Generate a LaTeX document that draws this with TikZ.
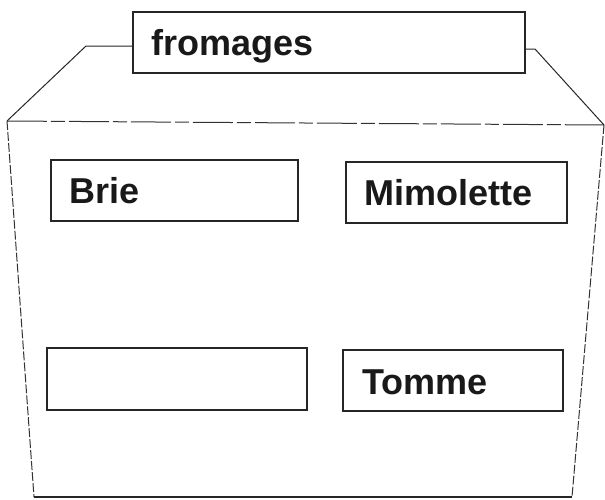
\documentclass[tikz,border=0pt]{standalone}
\usepackage{fontspec}
\setmainfont{Liberation Sans}
\begin{document}
\begin{tikzpicture}[x=1pt,y=-1pt,
  lbl/.style={inner sep=0pt, anchor=base west, font=\fontsize{36}{40}\selectfont\bfseries, text=black!90},
  boxline/.style={draw=black!85, line width=1.1pt},
  wall/.style={draw=black!80, line width=1pt, dash pattern=on 9pt off 2pt},
  topedge/.style={draw=black!80, line width=1pt, dash pattern=on 40pt off 4pt on 14pt off 4pt}
]
\useasboundingbox[fill=white] (0,0) rectangle (605,499);
% corner coordinates of the crate
\coordinate (tl) at (7,121);
\coordinate (tr) at (604,125);
\coordinate (bl) at (34,497);
\coordinate (br) at (572,497);
\coordinate (lidl) at (86,46);
\coordinate (lidlb) at (133,46);
\coordinate (lidr) at (535,49);
\coordinate (lidrb) at (525,49);
% lid sides
\draw[boxline, line width=1pt] (tl) -- (lidl) -- (lidlb);
\draw[boxline, line width=1pt] (lidrb) -- (lidr) -- (tr);
% crate body
\draw[topedge] (tl) -- (tr);
\draw[wall] (tl) -- (bl);
\draw[wall] (tr) -- (br);
\draw[boxline, line width=1.2pt] (bl) -- (br);
% title box
\draw[boxline, fill=white] (133,12) rectangle (525,73);
\node[lbl] (ftitle) at (151,55) {fromages};
% inner boxes
\draw[boxline] (51,160) rectangle (298,221);
\node[lbl] (brie) at (69,203) {Brie};
\draw[boxline] (346,162) rectangle (567,223);
\node[lbl] (mimo) at (364,205) {Mimolette};
\draw[boxline] (47,348) rectangle (307,410);
\draw[boxline] (343,350) rectangle (563,411);
\node[lbl] (tomme) at (362,394) {Tomme};
\end{tikzpicture}
\end{document}
